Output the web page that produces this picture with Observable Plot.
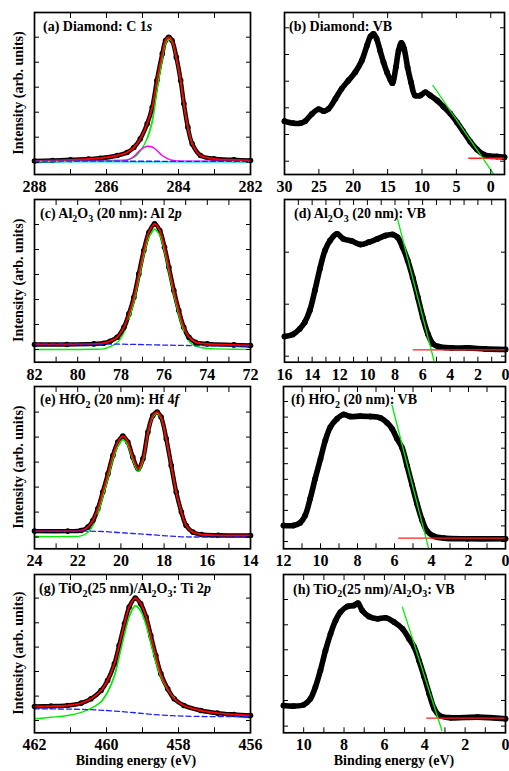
<!DOCTYPE html>
<html><head><meta charset="utf-8">
<script src="https://cdn.jsdelivr.net/npm/d3@7"></script>
<script src="https://cdn.jsdelivr.net/npm/@observablehq/plot@0.6"></script>
<style>
body{margin:0;background:#fff;}
#root{position:relative;width:509px;height:771px;overflow:hidden;background:#fff;}
#root svg{position:absolute;overflow:visible;background:transparent;}
</style></head><body><div id="root"></div>
<script>
const SERIF = "'Liberation Serif','Times New Roman',serif";

// ---------- (a) Diamond C 1s ----------
const aX = [288, 287.5, 287, 286.5, 286.17, 285.7, 285.43, 285.24, 285.06, 284.87, 284.73, 284.6, 284.45, 284.36, 284.27, 284.18, 284.06, 283.94, 283.85, 283.74, 283.62, 283.39, 283.02, 282.46, 282];
const aData = [13.5, 14, 14.7, 15.5, 16.3, 19, 22, 27, 35.7, 50.7, 67, 94, 120.7, 134, 137.3, 134, 117.3, 94, 70.7, 47.3, 30.7, 19, 15.7, 14.7, 14];
const aGreen = [13.3, 13.3, 13.5, 13.8, 14, 14.3, 14.7, 17, 23.5, 36, 53, 84, 115, 130.5, 135.5, 132.5, 116, 93, 70, 47, 30.5, 18.8, 15.3, 14.2, 13.8];
const aMagenta = [13.3, 13.3, 13.3, 13.3, 13.3, 13.5, 14.2, 18, 24.5, 28.2, 27.5, 24, 19, 17, 15.3, 14.2, 13.6, 13.4, 13.3, 13.3, 13.3, 13.3, 13.3, 13.3, 13.3];
const aBgX = [288, 282];
const aCyan = [12.9, 12.5];
const aBlue = [13.4, 13.1];

// ---------- (b) Diamond VB ----------
const bX = [30, 28.7, 27.7, 27.0, 26.0, 25.05, 24.3, 23.6, 22.6, 21.7, 20.7, 19.7, 18.75, 18.0, 17.5, 17.05, 16.6, 16.1, 15.6, 15.1, 14.6, 14.3, 13.8, 13.4, 13.0, 12.6, 12.1, 11.6, 11.0, 10.25, 9.5, 8.8, 7.8, 6.9, 5.9, 4.9, 4.0, 3.0, 2.0, 1.05, 0.1, -0.9, -2.0];
const bData = [53.3, 51.3, 51.3, 53.3, 60.7, 65.3, 63.3, 65.7, 75.7, 85.7, 94, 102.3, 114, 129, 138, 140.7, 135.7, 124, 112.3, 102.3, 94.7, 91.3, 107.3, 124, 131.7, 125.7, 107.3, 92.3, 79, 79, 82.3, 79, 74, 68, 61, 52, 43, 33, 25, 20, 18.3, 18, 17.3];
const bTanX = [8.4, -0.4], bTanY = [89, 0.7];
const bBaseX = [3.2, -2], bBaseY = [16.3, 16.3];

// ---------- (c) Al2O3 Al 2p ----------
const cX = [82, 80.5, 79.25, 78.8, 78.5, 78.17, 77.86, 77.63, 77.4, 77.17, 76.94, 76.7, 76.44, 76.2, 75.98, 75.78, 75.55, 75.32, 75.09, 74.85, 74.55, 74.0, 72.77, 72];
const cData = [17.7, 17.7, 18.3, 19, 21, 25, 35, 48.3, 65, 88.3, 111.7, 130, 138.3, 131.7, 115, 95, 71.7, 51.7, 35, 25, 20, 18.3, 17.3, 16.7];
const cGreen = [12.7, 12.7, 12.9, 13.3, 15.5, 19.5, 29.5, 43, 60, 83, 106.5, 125, 133, 127, 110.5, 90.5, 67.5, 47.5, 31, 21, 16, 13.8, 13, 12.8];
const cBgX = [82, 78, 76.4, 75, 72];
const cBg = [18.3, 18, 17.3, 16.7, 16];

// ---------- (d) Al2O3 VB ----------
const dX = [16, 15.4, 14.9, 14.53, 14.17, 13.8, 13.44, 13.07, 12.7, 12.2, 11.73, 11.1, 10.5, 9.9, 9.28, 8.67, 8.18, 7.82, 7.45, 7.08, 6.72, 6.35, 5.99, 5.62, 5.25, 4.89, 3.91, 2.69, 1.47, 0];
const dData = [25.7, 27.7, 33.3, 40, 51.7, 71.7, 93.3, 111.7, 121.7, 128.3, 123.3, 121, 117.7, 120, 123.3, 126.7, 127.7, 125, 115, 101.7, 85, 65, 45, 28.3, 18.3, 15.7, 14.3, 14.3, 13.3, 12.7];
const dTanX = [7.82, 5.18], dTanY = [143.3, 1.7];
const dBaseX = [6.67, 0], dBaseY = [12.3, 12.3];

// ---------- (e) HfO2 Hf 4f ----------
const eX = [24, 22.46, 21.84, 21.53, 21.3, 21.07, 20.84, 20.6, 20.37, 20.14, 19.91, 19.68, 19.45, 19.2, 18.98, 18.75, 18.52, 18.32, 18.14, 17.9, 17.67, 17.44, 17.2, 16.98, 16.67, 16.28, 15.5, 14];
const eData = [17.7, 17.7, 18.3, 21.7, 28.3, 40, 56.7, 75, 93.3, 106.7, 112.7, 106.7, 91.7, 80, 90, 116.7, 133.3, 136.7, 131.7, 110, 83.3, 56.7, 36.7, 23.3, 16.7, 14.3, 13.5, 13.3];
const eGreen = [12.3, 12.3, 12.9, 16.3, 23, 34.8, 51.7, 70.3, 89, 102.7, 109, 103.5, 88.7, 77.3, 87.7, 114.7, 131.6, 135.3, 130.5, 109.3, 83, 56.7, 37, 23.6, 16.3, 13.8, 12.8, 12.4];
const eBgX = [24, 21.5, 20.84, 20.14, 19.45, 18.75, 17.9, 17.2, 16.5, 14];
const eBg = [17.7, 17.6, 17.3, 16.3, 15.3, 14.3, 13, 12, 11.8, 11.8];

// ---------- (f) HfO2 VB ----------
const fX = [12, 11.46, 11.1, 10.83, 10.56, 10.29, 10.0, 9.74, 9.47, 9.11, 8.75, 8.39, 7.85, 7.31, 6.77, 6.4, 6.13, 5.86, 5.59, 5.32, 5.05, 4.78, 4.5, 4.24, 3.88, 3.34, 2.07, 0];
const fData = [23.3, 23.3, 26, 33.3, 50, 70, 90, 108.3, 121.7, 130, 134.3, 132.3, 132.7, 132.3, 131, 126, 120, 110, 101, 83, 64, 45, 28.3, 17.7, 12.7, 10.7, 10, 10];
const fTanX = [6.13, 4.15], fTanY = [143.3, 0];
const fBaseX = [5.77, 0], fBaseY = [10.7, 10.7];

// ---------- (g) TiO2/Al2O3 Ti 2p ----------
const gX = [462, 461.54, 461.08, 460.7, 460.43, 460.15, 459.97, 459.78, 459.65, 459.5, 459.37, 459.2, 459.05, 458.9, 458.77, 458.63, 458.49, 458.3, 458.12, 457.85, 457.38, 456.92, 456.46, 456];
const gData = [26.3, 26.7, 27.3, 29.7, 34, 42.3, 52.3, 69, 87.3, 109, 125.7, 134.7, 129, 115.7, 97.3, 77.3, 59, 44, 34, 27.3, 22.3, 19.7, 18.3, 17.3];
const gGreen = [14, 15.5, 17.3, 20.5, 24.5, 31, 40.7, 57, 76, 99, 116, 127, 122, 108, 90, 71, 56, 43, 35, 27, 21, 18.3, 16.5, 15];
const gBgX = [462, 460.5, 459.5, 458.5, 457.5, 456];
const gBg = [24, 23.2, 21, 17.8, 16.4, 16.3];

// ---------- (h) TiO2/Al2O3 VB ----------
const hX = [11, 10.5, 10.0, 9.67, 9.42, 9.17, 8.92, 8.67, 8.42, 8.18, 7.84, 7.51, 7.31, 7.1, 6.77, 6.35, 5.94, 5.52, 5.1, 4.78, 4.53, 4.28, 4.03, 3.78, 3.53, 3.28, 2.7, 1.38, 0];
const hData = [27.3, 26.7, 28, 34, 45.7, 62.3, 82.3, 99, 112.3, 120.7, 126.3, 127.3, 129.7, 122.3, 116.3, 114, 115, 110.7, 104, 94, 86, 72, 56, 39, 24, 17.3, 15, 15.7, 14];
const hTanX = [5.11, 3.15], hTanY = [125.7, 2.3];
const hBaseX = [3.9, 0], hBaseY = [14.7, 14.7];

// ---------- ticks ----------
const aTicks = [288, 287, 286, 285, 284, 283, 282], aLabels = [288, 286, 284, 282];
const bTicks = [30, 25, 20, 15, 10, 5, 0], bLabels = [30, 25, 20, 15, 10, 5, 0];
const cTicks = [82, 81, 80, 79, 78, 77, 76, 75, 74, 73, 72], cLabels = [82, 80, 78, 76, 74, 72];
const dTicks = [16, 15, 14, 13, 12, 11, 10, 9, 8, 7, 6, 5, 4, 3, 2, 1, 0], dLabels = [16, 14, 12, 10, 8, 6, 4, 2, 0];
const eTicks = [24, 23, 22, 21, 20, 19, 18, 17, 16, 15, 14], eLabels = [24, 22, 20, 18, 16, 14];
const fTicks = [12, 11, 10, 9, 8, 7, 6, 5, 4, 3, 2, 1, 0], fLabels = [12, 10, 8, 6, 4, 2, 0];
const gTicks = [462, 461, 460, 459, 458, 457, 456], gLabels = [462, 460, 458, 456];
const hTicks = [11, 10, 9, 8, 7, 6, 5, 4, 3, 2, 1, 0], hLabels = [10, 8, 6, 4, 2, 0];

const aYTicks = [12.3, 37.3, 62.3, 87.3, 112.3, 137.3];
const bYTicks = [13.3, 40, 66.7, 93.3, 120, 146.7];
const cYTicks = [12.7, 37.7, 62.7, 87.7, 112.7, 137.7];
const dYTicks = [6, 58, 110];
const eYTicks = [11.7, 36.7, 61.7, 86.7, 111.7, 136.7];
const fYTicks = [7.3, 22.9, 38.4, 54, 69.5, 85.1, 100.6, 116.2, 131.7, 147.3];
const gYTicks = [12.3, 36.7, 61.3, 85.7, 110, 134.7];
const hYTicks = [6.7, 32.3, 57.3, 83, 108, 133.3];

// ---------- titles ----------
const titleA = [["(a) Diamond: C 1", ""], ["s", "i"]];
const titleB = [["(b) Diamond: VB", ""]];
const titleC = [["(c) Al", ""], ["2", "sub"], ["O", ""], ["3", "sub"], [" (20 nm): Al 2", ""], ["p", "i"]];
const titleD = [["(d) Al", ""], ["2", "sub"], ["O", ""], ["3", "sub"], [" (20 nm): VB", ""]];
const titleE = [["(e) HfO", ""], ["2", "sub"], [" (20 nm): Hf 4", ""], ["f", "i"]];
const titleF = [["(f) HfO", ""], ["2", "sub"], [" (20 nm): VB", ""]];
const titleG = [["(g) TiO", ""], ["2", "sub"], ["(25 nm)/Al", ""], ["2", "sub"], ["O", ""], ["3", "sub"], [": Ti 2", ""], ["p", "i"]];
const titleH = [["(h) TiO", ""], ["2", "sub"], ["(25 nm)/Al", ""], ["2", "sub"], ["O", ""], ["3", "sub"], [": VB", ""]];
const yLabelText = "Intensity (arb. units)";
const xLabelText = "Binding energy (eV)";

// ---------- layout (frame boxes in page pixels) ----------
const FR = {
  a: {L: 34, T: 12, R: 250, B: 174},
  b: {L: 284, T: 12, R: 504, B: 174},
  c: {L: 34, T: 199, R: 250, B: 361.7},
  d: {L: 284, T: 199, R: 505, B: 361.7},
  e: {L: 34, T: 386, R: 250, B: 548.3},
  f: {L: 283, T: 386, R: 505, B: 548.3},
  g: {L: 34, T: 574, R: 250, B: 732.3},
  h: {L: 283, T: 574, R: 505, B: 732.3}
};

const rowsOf = (xs, ys) => xs.map((x, i) => ({x, y: ys[i]}));

function titleMark(segs, dx, dy) {
  return (index, scales, values, dims) => {
    const t = d3.create("svg:text")
      .attr("x", dims.marginLeft + dx).attr("y", dims.marginTop + dy)
      .attr("text-anchor", "start")
      .attr("font-family", SERIF).attr("font-weight", "bold")
      .attr("font-size", 14).attr("fill", "black");
    let cur = 0;
    for (const [s, k] of segs) {
      const ts = t.append("tspan").text(s);
      const target = k === "sub" ? 3.5 : 0;
      if (target !== cur) ts.attr("dy", target - cur);
      cur = target;
      if (k === "sub") ts.attr("font-size", 10);
      if (k === "i") ts.attr("font-style", "italic");
    }
    return t.node();
  };
}
function yLabelMark() {
  return (index, scales, values, dims) => {
    const cy = dims.marginTop + (dims.height - dims.marginTop - dims.marginBottom) / 2;
    const cx = dims.marginLeft - 16;
    return d3.create("svg:text")
      .attr("transform", `translate(${cx},${cy}) rotate(-90)`)
      .attr("text-anchor", "middle").attr("dy", "0.35em")
      .attr("font-family", SERIF).attr("font-weight", "bold").attr("font-size", 14)
      .attr("fill", "black").text(yLabelText).node();
  };
}
function xLabelMark(shift) {
  return (index, scales, values, dims) => {
    const cx = dims.marginLeft + (dims.width - dims.marginLeft - dims.marginRight) / 2 + shift;
    const y = dims.height - dims.marginBottom + 33;
    return d3.create("svg:text")
      .attr("x", cx).attr("y", y).attr("text-anchor", "middle")
      .attr("font-family", SERIF).attr("font-weight", "bold").attr("font-size", 14)
      .attr("fill", "black").text(xLabelText).node();
  };
}

function panel(key, cfg) {
  const fr = FR[key];
  const mL = cfg.yLabel ? 34 : 4, mR = 8, mT = 4, mB = 26;
  const pw = fr.R - fr.L, ph = fr.B - fr.T;
  const marks = [];
  const data = rowsOf(cfg.x, cfg.data);
  if (cfg.green) marks.push(Plot.line(rowsOf(cfg.x, cfg.green), {x: "x", y: "y", stroke: "#00ee00", strokeWidth: 1.4, curve: "catmull-rom"}));
  marks.push(Plot.line(data, {x: "x", y: "y", stroke: "black", strokeWidth: cfg.core ? 4.4 : 5.6, curve: "catmull-rom"}));
  marks.push(Plot.dot(data, {x: "x", y: "y", r: cfg.core ? 2.8 : 2.9, fill: "black"}));
  if (cfg.green) marks.push(Plot.line(rowsOf(cfg.x, cfg.green).filter(d => d.y > 30), {x: "x", y: "y", stroke: "#00ee00", strokeWidth: 1.4, curve: "catmull-rom"}));
  if (cfg.magenta) marks.push(Plot.line(rowsOf(cfg.x, cfg.magenta), {x: "x", y: "y", stroke: "#ff00ff", strokeWidth: 1.4, curve: "catmull-rom"}));
  if (cfg.core) marks.push(Plot.line(data, {x: "x", y: "y", stroke: "#ff0000", strokeWidth: 1.8, curve: "catmull-rom"}));
  if (cfg.cyan) marks.push(Plot.line(rowsOf(cfg.bgX, cfg.cyan), {x: "x", y: "y", stroke: "#00e5ff", strokeWidth: 1.6}));
  if (cfg.bg) marks.push(Plot.line(rowsOf(cfg.bgX, cfg.bg), {x: "x", y: "y", stroke: "#2222ff", strokeWidth: 1.3, strokeDasharray: "5,3", curve: "catmull-rom"}));
  if (cfg.tanX) {
    marks.push(Plot.line(rowsOf(cfg.baseX, cfg.baseY), {x: "x", y: "y", stroke: "#ff2020", strokeWidth: 1.4}));
    marks.push(Plot.line(rowsOf(cfg.tanX, cfg.tanY), {x: "x", y: "y", stroke: "#00ee00", strokeWidth: 1.3}));
  }
  const lab = new Set(cfg.labels);
  marks.push(Plot.axisX({anchor: "bottom", ticks: cfg.ticks, tickSize: -5, tickPadding: 11, label: null,
      tickFormat: d => lab.has(d) ? String(d) : "", fontSize: 16, fontWeight: "bold", fontFamily: SERIF}));
  marks.push(Plot.axisX({anchor: "top", ticks: cfg.ticks, tickSize: -5, label: null, tickFormat: () => ""}));
  marks.push(Plot.axisY({anchor: "left", ticks: cfg.yTicks, tickSize: -5, label: null, tickFormat: () => ""}));
  marks.push(Plot.axisY({anchor: "right", ticks: cfg.yTicks, tickSize: -5, label: null, tickFormat: () => ""}));
  marks.push(Plot.frame({stroke: "black", strokeWidth: 1.7}));
  marks.push(titleMark(cfg.title, cfg.tdx, cfg.tdy));
  if (cfg.yLabel) marks.push(yLabelMark());
  if (cfg.xLabel) marks.push(xLabelMark(cfg.xShift || 0));
  const svg = Plot.plot({
    width: mL + pw + mR, height: Math.round(mT + ph + mB),
    marginLeft: mL, marginRight: mR, marginTop: mT, marginBottom: Math.round(mT + ph + mB) - mT - ph,
    x: {domain: cfg.xDomain, label: null},
    y: {domain: [0, ph], label: null},
    style: {background: "transparent", overflow: "visible", fontFamily: SERIF, color: "black"},
    marks
  });
  svg.style.left = (fr.L - mL) + "px";
  svg.style.top = (fr.T - mT) + "px";
  document.getElementById("root").appendChild(svg);
}

panel("a", {core: true, x: aX, data: aData, green: aGreen, magenta: aMagenta, bgX: aBgX, cyan: aCyan, bg: aBlue,
  xDomain: [288, 282], ticks: aTicks, labels: aLabels, yTicks: aYTicks, title: titleA, tdx: 9, tdy: 19, yLabel: true});
panel("b", {x: bX, data: bData, tanX: bTanX, tanY: bTanY, baseX: bBaseX, baseY: bBaseY,
  xDomain: [30, -2], ticks: bTicks, labels: bLabels, yTicks: bYTicks, title: titleB, tdx: 5, tdy: 19});
panel("c", {core: true, x: cX, data: cData, green: cGreen, bgX: cBgX, bg: cBg,
  xDomain: [82, 72], ticks: cTicks, labels: cLabels, yTicks: cYTicks, title: titleC, tdx: 6, tdy: 19, yLabel: true});
panel("d", {x: dX, data: dData, tanX: dTanX, tanY: dTanY, baseX: dBaseX, baseY: dBaseY,
  xDomain: [16, 0], ticks: dTicks, labels: dLabels, yTicks: dYTicks, title: titleD, tdx: 10, tdy: 19});
panel("e", {core: true, x: eX, data: eData, green: eGreen, bgX: eBgX, bg: eBg,
  xDomain: [24, 14], ticks: eTicks, labels: eLabels, yTicks: eYTicks, title: titleE, tdx: 6, tdy: 18, yLabel: true});
panel("f", {x: fX, data: fData, tanX: fTanX, tanY: fTanY, baseX: fBaseX, baseY: fBaseY,
  xDomain: [12, 0], ticks: fTicks, labels: fLabels, yTicks: fYTicks, title: titleF, tdx: 8, tdy: 18});
panel("g", {core: true, x: gX, data: gData, green: gGreen, bgX: gBgX, bg: gBg,
  xDomain: [462, 456], ticks: gTicks, labels: gLabels, yTicks: gYTicks, title: titleG, tdx: 5, tdy: 19, yLabel: true, xLabel: true, xShift: -6});
panel("h", {x: hX, data: hData, tanX: hTanX, tanY: hTanY, baseX: hBaseX, baseY: hBaseY,
  xDomain: [11, 0], ticks: hTicks, labels: hLabels, yTicks: hYTicks, title: titleH, tdx: 10, tdy: 19.5, xLabel: true});
</script></body></html>
